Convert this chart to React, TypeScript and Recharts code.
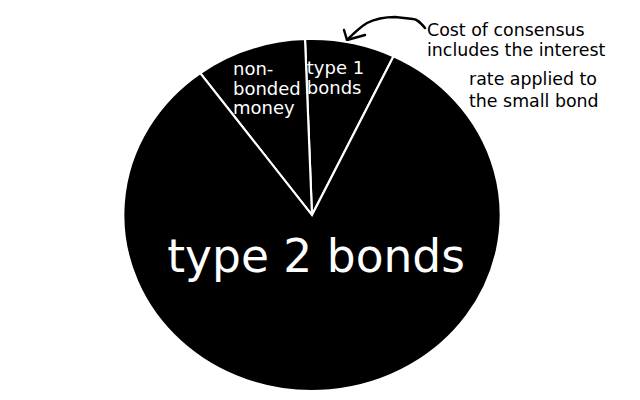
import { PieChart, Pie, Cell, Customized } from "recharts";

const sliceNames = ["type 1 bonds", "non-bonded money", "type 2 bonds"];
const sliceValues = [7.7, 9.5, 82.8];
const sliceLines = [["type 1", "bonds"], ["non-", "bonded", "money"], ["type 2 bonds"]];

const noteLines = ["Cost of consensus", "includes the interest", "rate applied to", "the small bond"];

const data = sliceNames.map((name, i) => ({ name, value: sliceValues[i], lines: sliceLines[i] }));

const CX = 312;
const CY = 215;
const SX = 1.072; // the drawn pie is a little wider than tall
const FONT = "'DejaVu Sans', sans-serif";
const RAD = Math.PI / 180;

// per slice: label radius, angle nudge, font size, line height
const labelLayout = [
  { r: 140, shift: 1.3, size: 18, lh: 20 },
  { r: 134, shift: -0.3, size: 18, lh: 19.5 },
  { r: 41, shift: 0, size: 45.5, lh: 0 },
];

const renderLabel = (props: any) => {
  const { midAngle, index } = props;
  const lay = labelLayout[index];
  const lines: string[] = data[index].lines;
  const a = (midAngle + lay.shift) * RAD;
  const x = CX + SX * lay.r * Math.cos(a);
  const y = CY - lay.r * Math.sin(a);
  const multi = lines.length > 1;
  const w = Math.max(...lines.map((l) => l.length)) * 0.6 * lay.size;
  const first = y - ((lines.length - 1) * lay.lh) / 2 + lay.size * 0.35;
  return (
    <text
      key={index}
      x={multi ? x - w / 2 : x}
      y={first}
      fill="#fff"
      fontFamily={FONT}
      fontSize={lay.size}
      textAnchor={multi ? "start" : "middle"}
    >
      {lines.map((l, i) => (
        <tspan key={i} x={multi ? x - w / 2 : x} y={first + i * lay.lh}>
          {l}
        </tspan>
      ))}
    </text>
  );
};

const Note = () => (
  <g>
    <path
      d="M425,28 C420,22 417,19 413,19 L395,17 C385,17 375,19 367,23 C362,26 357,30 347,40"
      fill="none"
      stroke="#000"
      strokeWidth={2.5}
      strokeLinecap="round"
    />
    <path d="M344,30 L347,40 L365,35" fill="none" stroke="#000" strokeWidth={2.5} strokeLinecap="round" strokeLinejoin="round" />
    <g fontFamily={FONT} fontSize={17.4} fill="#000">
      <text x={427} y={36}>{noteLines[0]}</text>
      <text x={427} y={56}>{noteLines[1]}</text>
      <text x={469} y={85}>{noteLines[2]}</text>
      <text x={469} y={107}>{noteLines[3]}</text>
    </g>
  </g>
);

export default function App() {
  return (
    <div className="ellipse-pie" style={{ position: "absolute", left: 0, top: 0, background: "#fff" }}>
      <style>{`.ellipse-pie .recharts-pie-sector { transform-box: view-box; transform-origin: ${CX}px ${CY}px; transform: scaleX(${SX}); }`}</style>
      <PieChart width={640} height={400} margin={{ top: 0, right: 0, bottom: 0, left: 0 }}>
        <Pie
          data={data}
          dataKey="value"
          nameKey="name"
          cx={CX}
          cy={CY}
          outerRadius={176}
          startAngle={64.4}
          endAngle={424.4}
          stroke="#fff"
          strokeWidth={2}
          label={renderLabel}
          labelLine={false}
          isAnimationActive={false}
        >
          {data.map((_, i) => (
            <Cell key={i} fill="#000" />
          ))}
        </Pie>
        <Customized component={Note} />
      </PieChart>
    </div>
  );
}
